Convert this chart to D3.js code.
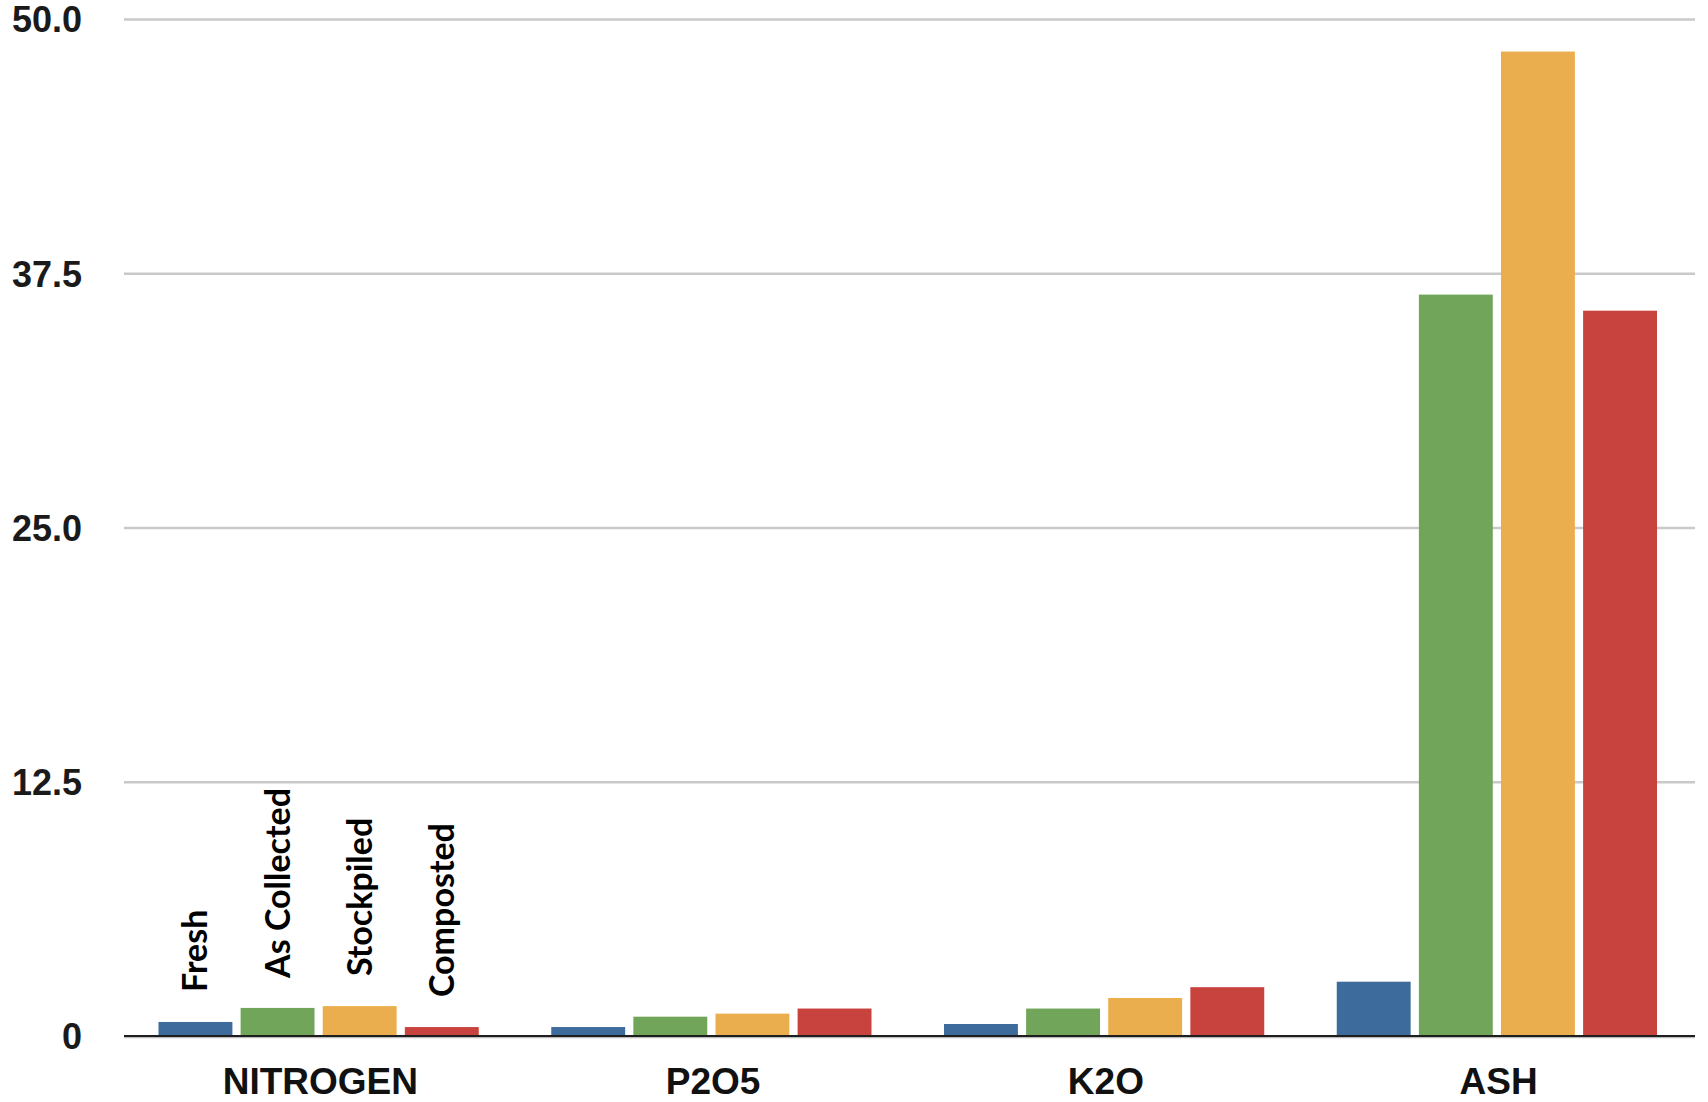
<!DOCTYPE html>
<html>
<head>
<meta charset="utf-8">
<script src="https://cdn.jsdelivr.net/npm/d3@7"></script>
<style>
  html, body { margin: 0; padding: 0; background: #ffffff; }
  svg { display: block; }
</style>
</head>
<body>
<div id="chart"></div>
<script>
// Nutrient and ash content by manure handling stage
const categories = ["NITROGEN", "P2O5", "K2O", "ASH"];
const seriesNames = ["Fresh", "As Collected", "Stockpiled", "Composted"];
const fresh       = [0.69, 0.44, 0.59, 2.67];
const asCollected = [1.38, 0.95, 1.35, 36.45];
const stockpiled  = [1.47, 1.10, 1.87, 48.4];
const composted   = [0.44, 1.35, 2.40, 35.66];
const yTickValues = [0, 12.5, 25, 37.5, 50];
const yTickLabels = ["0", "12.5", "25.0", "37.5", "50.0"];
const seriesColors = ["#3d6b9c", "#70a55a", "#ebae4e", "#c8433e"];

const seriesValues = [fresh, asCollected, stockpiled, composted];
const rows = categories.map((c, i) => ({
  category: c,
  values: seriesNames.map((s, k) => ({ series: s, value: seriesValues[k][i], color: seriesColors[k] }))
}));

const W = 1708, H = 1102;
const plot = { left: 124, right: 1695, top: 19, bottom: 1036 };

const svg = d3.select("#chart").append("svg")
  .attr("width", W).attr("height", H);

const y = d3.scaleLinear().domain([0, 50]).range([plot.bottom, plot.top]);
const x0 = d3.scaleBand().domain(categories).range([plot.left, plot.right]);
const x1 = d3.scaleBand().domain(seriesNames)
  .range([34.5, x0.bandwidth() - 38]).paddingInner(0.1);

// Horizontal gridlines with value labels
const yAxis = svg.append("g")
  .attr("transform", `translate(${plot.left},0)`)
  .call(d3.axisLeft(y)
    .tickValues(yTickValues)
    .tickFormat((d, i) => yTickLabels[i])
    .tickSize(-(plot.right - plot.left))
    .tickPadding(42));
yAxis.select(".domain").remove();
yAxis.selectAll(".tick line")
  .attr("stroke", "#c9c9c9")
  .attr("stroke-width", 2.6);
yAxis.selectAll(".tick text")
  .attr("fill", "#1a1a1a")
  .attr("font-family", "'Liberation Sans', Arial, Helvetica, sans-serif")
  .attr("font-weight", "bold")
  .attr("font-size", 36)
  .attr("dy", "0.36em");

// Bars
const groups = svg.append("g").selectAll("g")
  .data(rows).join("g")
  .attr("transform", d => `translate(${x0(d.category)},0)`);

groups.selectAll("rect")
  .data(d => d.values).join("rect")
  .attr("x", d => x1(d.series))
  .attr("width", x1.bandwidth())
  .attr("y", d => y(d.value))
  .attr("height", d => y(0) - y(d.value))
  .attr("fill", d => d.color);

// Baseline
svg.append("line")
  .attr("x1", plot.left).attr("x2", plot.right)
  .attr("y1", y(0) + 1.5).attr("y2", y(0) + 1.5)
  .attr("stroke", "#bdbdbd").attr("stroke-width", 1.5);
svg.append("line")
  .attr("x1", plot.left).attr("x2", plot.right)
  .attr("y1", y(0)).attr("y2", y(0))
  .attr("stroke", "#1e1e1e").attr("stroke-width", 2);

// Category labels
const xAxis = svg.append("g")
  .attr("transform", `translate(0,${plot.bottom})`)
  .call(d3.axisBottom(x0).tickSize(0).tickPadding(0));
xAxis.select(".domain").remove();
xAxis.selectAll(".tick text")
  .attr("y", 58)
  .attr("dy", 0)
  .attr("fill", "#111")
  .attr("font-family", "'Liberation Sans', Arial, Helvetica, sans-serif")
  .attr("font-weight", "bold")
  .attr("font-size", 37);

// Series names written vertically above the first group's bars
const first = rows[0];
svg.append("g").selectAll("text")
  .data(first.values).join("text")
  .attr("transform", d => {
    const cx = x0(first.category) + x1(d.series) + x1.bandwidth() / 2 + 12;
    const cy = y(d.value) - 30;
    return `translate(${cx},${cy}) rotate(-90)`;
  })
  .attr("text-anchor", "start")
  .attr("fill", "#000")
  .attr("font-family", "Lato, 'Open Sans', sans-serif")
  .attr("font-weight", "bold")
  .attr("font-size", 34)
  .text(d => d.series);
</script>
</body>
</html>
